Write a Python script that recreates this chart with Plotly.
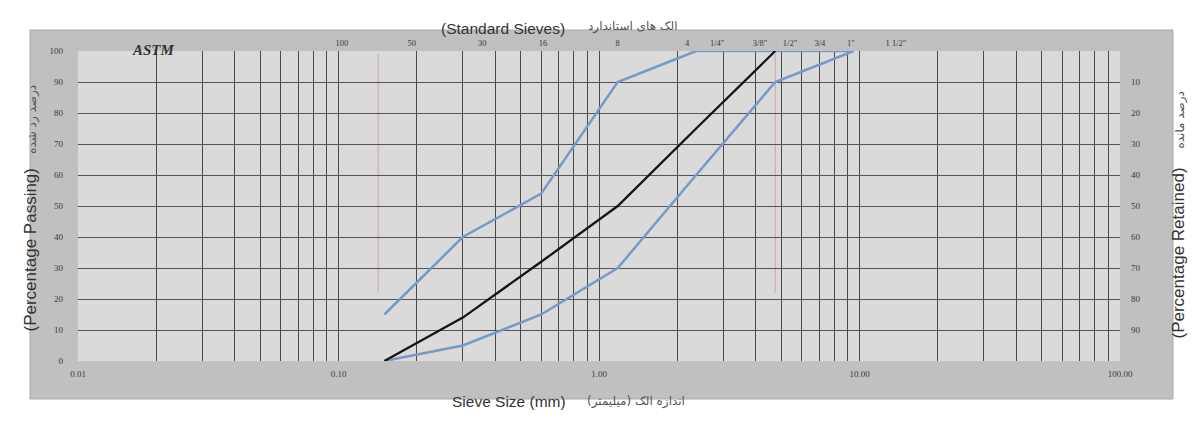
import plotly.graph_objects as go

# ---------------- data ----------------
sieve_mm = [0.15, 0.3, 0.6, 1.18, 2.36, 4.75, 9.5]
upper_limit = [15, 40, 54, 90, 100, 100, 100]
lower_limit = [0, 5, 15, 30, 60, 90, 100]
mid_mm = [0.15, 0.3, 0.6, 1.18, 2.36, 4.75]
mid_curve = [0, 14, 32, 50, 75, 100]

x_tick_vals = [0.01, 0.1, 1, 10, 100]
x_tick_text = ["0.01", "0.10", "1.00", "10.00", "100.00"]
y_left_ticks = [0, 10, 20, 30, 40, 50, 60, 70, 80, 90, 100]
y_right_ticks = [10, 20, 30, 40, 50, 60, 70, 80, 90]

top_label_mm = [0.103, 0.191, 0.356, 0.61, 1.18, 2.18, 2.84, 4.15, 5.41, 7.05, 9.27, 13.8]
top_labels = ["100", "50", "30", "16", "8", "4", '1/4"', '3/8"', '1/2"', "3/4", '1"', '1 1/2"']

marker_lines_mm = [0.142, 4.75]
marker_lines_bottom = [22, 22]

# grid positions for the log axis (1..9 in every decade)
grid_vals = [m * 10 ** e for e in range(-2, 2) for m in range(1, 10)] + [100]
grid_text = []
for v in grid_vals:
    hit = [t for tv, t in zip(x_tick_vals, x_tick_text) if abs(tv - v) < 1e-9]
    grid_text.append(hit[0] if hit else "")

# ---------------- figure ----------------
OFF = 8  # default page body margin
PAGE_W, PAGE_H = 1200, 423
W, H = PAGE_W - OFF, PAGE_H - OFF
PL, PR, PT, PB = 78, 1120, 51, 361   # plot area in page pixels
L, T = PL - OFF, PT - OFF
R, B = W - (PR - OFF), H - (PB - OFF)
pw, ph = PR - PL, PB - PT


def px(x):
    return (x - PL) / pw


def py(y):
    return (PB - y) / ph


BLUE = "#7898c8"
fig = go.Figure()

fig.add_trace(go.Scatter(x=sieve_mm, y=upper_limit, mode="lines",
                         line=dict(color=BLUE, width=2.5), hoverinfo="skip", showlegend=False))
fig.add_trace(go.Scatter(x=sieve_mm, y=lower_limit, mode="lines",
                         line=dict(color=BLUE, width=2.5), hoverinfo="skip", showlegend=False))
fig.add_trace(go.Scatter(x=mid_mm, y=mid_curve, mode="lines",
                         line=dict(color="#151515", width=2.3), hoverinfo="skip", showlegend=False))
# invisible trace carrying the "retained" axes
fig.add_trace(go.Scatter(x=mid_mm, y=[100 - v for v in mid_curve], xaxis="x2", yaxis="y2",
                         mode="lines", line=dict(width=0), opacity=0,
                         hoverinfo="skip", showlegend=False))

shapes = [
    # outer grey chart box
    dict(type="rect", xref="paper", yref="paper",
         x0=px(30), x1=px(1173), y0=py(399), y1=py(30),
         fillcolor="#c0c0c0", line=dict(color="#a8a8a8", width=1), layer="below"),
    # light plot area
    dict(type="rect", xref="paper", yref="paper", x0=0, x1=1, y0=0, y1=1,
         fillcolor="#dadada", line=dict(width=0), layer="below"),
]
for xm, yb in zip(marker_lines_mm, marker_lines_bottom):
    shapes.append(dict(type="line", xref="x", yref="y", x0=xm, x1=xm, y0=yb, y1=99,
                       line=dict(color="#d4a4a4", width=1), layer="below"))

tick_font = dict(family="Liberation Serif", size=9, color="#3a3a3a")

fig.update_layout(
    width=W, height=H,
    margin=dict(l=L, r=R, t=T, b=B),
    paper_bgcolor="white",
    plot_bgcolor="rgba(0,0,0,0)",
    shapes=shapes,
    xaxis=dict(type="log", range=[-2, 2], tickvals=grid_vals, ticktext=grid_text,
               showgrid=True, gridcolor="#4a4a4a", gridwidth=1,
               ticks="", showline=False, zeroline=False,
               tickfont=tick_font, ticklabelstandoff=6),
    yaxis=dict(range=[0, 100], tickvals=y_left_ticks, showgrid=True,
               gridcolor="#555555", gridwidth=1, ticks="", showline=False,
               zeroline=False, tickfont=tick_font, ticklabelstandoff=14),
    xaxis2=dict(type="log", range=[-2, 2], overlaying="x", side="top", anchor="y",
                tickvals=top_label_mm, ticktext=top_labels, showgrid=False,
                ticks="", showline=False, zeroline=False,
                tickfont=dict(family="Liberation Serif", size=8.5, color="#3a3a3a"),
                ticklabelstandoff=2),
    yaxis2=dict(range=[100, 0], overlaying="y", side="right", anchor="x",
                tickvals=y_right_ticks, showgrid=False, ticks="", showline=False,
                zeroline=False, tickfont=tick_font, ticklabelstandoff=10),
)

ann = []
sans = "Liberation Sans"
fa = "DejaVu Sans"
fa_span = '<span style="font-family:DejaVu Sans;font-size:12px;fill:#555555">{}</span>'
ann.append(dict(text="<b><i>ASTM</i></b>", x=px(130), y=py(40), xref="paper", yref="paper",
                showarrow=False, font=dict(family="Liberation Serif", size=15, color="#333333")))
ann.append(dict(text="(Standard Sieves)", x=px(503), y=py(18), xref="paper", yref="paper",
                showarrow=False, font=dict(family=sans, size=15.5, color="#333333")))
ann.append(dict(text="الک های استاندارد", x=px(633), y=py(17), xref="paper", yref="paper",
                showarrow=False, font=dict(family=fa, size=12, color="#555555")))
ann.append(dict(text="Sieve Size (mm)", x=px(509), y=py(412), xref="paper", yref="paper",
                showarrow=False, font=dict(family=sans, size=15.5, color="#333333")))
ann.append(dict(text="اندازه الک (میلیمتر)", x=px(636), y=py(411), xref="paper", yref="paper",
                showarrow=False, font=dict(family=fa, size=12, color="#555555")))
ann.append(dict(text="(Percentage Passing)   " + fa_span.format("درصد رد شده"),
                x=px(18), y=py(208), xref="paper", yref="paper",
                textangle=-90, showarrow=False, font=dict(family=sans, size=17, color="#333333")))
ann.append(dict(text="(Percentage Retained)    " + fa_span.format("درصد مانده"),
                x=px(1189), y=py(215), xref="paper", yref="paper",
                textangle=-90, showarrow=False, font=dict(family=sans, size=17, color="#333333")))
fig.update_layout(annotations=ann)

fig.write_html("out.html")
